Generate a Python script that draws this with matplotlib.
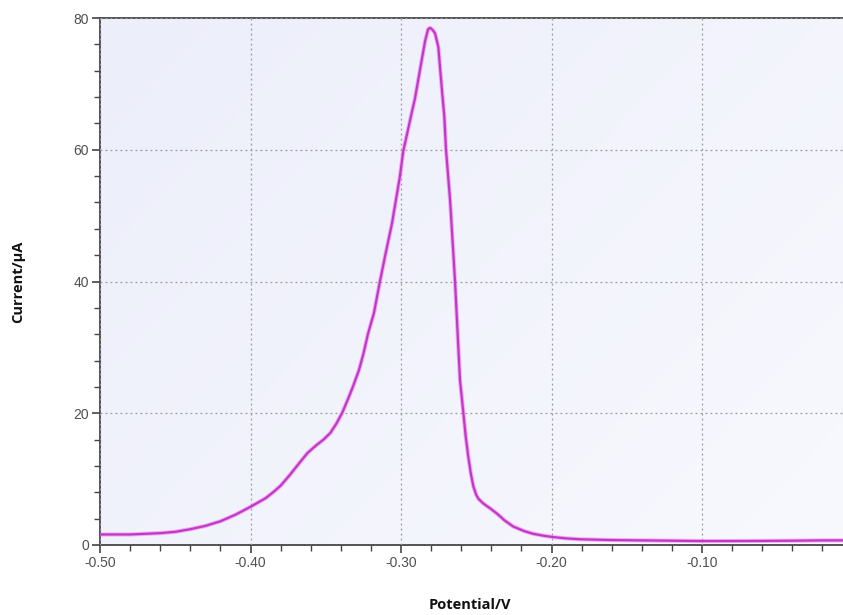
import numpy as np
import matplotlib
matplotlib.use("Agg")
import matplotlib.pyplot as plt
from matplotlib.ticker import MultipleLocator, FormatStrFormatter
from matplotlib.colors import LinearSegmentedColormap

# potential (V) and current (uA)
potential = [-0.500, -0.480, -0.460, -0.450, -0.440, -0.430, -0.420, -0.410,
             -0.400, -0.390, -0.385, -0.380, -0.374, -0.367, -0.362, -0.356,
             -0.3515, -0.347, -0.343, -0.339, -0.3355, -0.332, -0.328, -0.325,
             -0.322, -0.318, -0.314, -0.310, -0.306, -0.3007, -0.2985, -0.2950,
             -0.2929, -0.2907, -0.2874, -0.2840, -0.2820, -0.2807, -0.2790,
             -0.2774, -0.2752, -0.2730, -0.2712, -0.2701, -0.2674, -0.2641,
             -0.2608, -0.2590, -0.2570, -0.2553, -0.2535, -0.2519, -0.2500,
             -0.2485, -0.2453, -0.2410, -0.2364, -0.2310, -0.2254, -0.2180,
             -0.2121, -0.2050, -0.1988, -0.190, -0.181, -0.160, -0.140, -0.120,
             -0.100, -0.080, -0.060, -0.040, -0.020, -0.006]
current = [1.6, 1.6, 1.8, 2.0, 2.4, 2.9, 3.6, 4.6,
           5.8, 7.1, 8.0, 9.0, 10.6, 12.6, 14.0, 15.2,
           16.0, 17.0, 18.4, 20.1, 22.0, 24.0, 26.5, 29.0,
           32.0, 35.2, 40.0, 44.5, 48.8, 56.0, 59.8, 63.4,
           65.6, 67.8, 72.1, 76.5, 78.3, 78.5, 78.2,
           77.7, 75.6, 69.6, 65.0, 60.0, 52.4, 40.0,
           25.0, 21.0, 16.5, 13.4, 10.7, 8.9, 7.6,
           7.0, 6.3, 5.6, 4.8, 3.7, 2.8, 2.1,
           1.7, 1.4, 1.2, 1.0, 0.87, 0.75, 0.7, 0.65,
           0.6, 0.6, 0.62, 0.65, 0.7, 0.7]

x_ticks = [-0.50, -0.40, -0.30, -0.20, -0.10]
y_ticks = [0, 20, 40, 60, 80]

fig = plt.figure(figsize=(8.43, 6.15), dpi=100)
ax = fig.add_axes([100 / 843, 1 - 545 / 615, 743 / 843, 527 / 615])

# soft lavender background, a little lighter towards the lower right
bg = LinearSegmentedColormap.from_list("bg", ["#eceefa", "#f8f9fe"])
gx, gy = np.meshgrid(np.linspace(0, 1, 200), np.linspace(0, 1, 200))
ax.imshow(0.6 * gx + 0.4 * gy, cmap=bg, extent=[0, 1, 0, 1], origin="upper",
          transform=ax.transAxes, aspect="auto", zorder=0)

ax.plot(potential, current, color="#f07af0", lw=3.0, alpha=0.6, zorder=3)
ax.plot(potential, current, color="#c238c6", lw=1.6, zorder=4)

ax.set_xlim(-0.5, -0.5 + 743 / 1505)
ax.set_ylim(0, 80)
ax.set_xticks(x_ticks)
ax.set_yticks(y_ticks)
ax.xaxis.set_minor_locator(MultipleLocator(0.02))
ax.yaxis.set_minor_locator(MultipleLocator(4))
ax.xaxis.set_major_formatter(FormatStrFormatter("%.2f"))

ax.grid(True, which="major", ls=(0, (1.5, 2.5)), color="#999999", lw=0.9)
ax.set_axisbelow(False)
for line in ax.get_xgridlines() + ax.get_ygridlines():
    line.set_zorder(1)

for side in ["left", "bottom", "top"]:
    ax.spines[side].set_color("#444444")
    ax.spines[side].set_linewidth(1.3)
ax.spines["right"].set_visible(False)

ax.tick_params(which="major", direction="out", length=6, width=1.2,
               color="#444444", labelsize=10, labelcolor="#505050", pad=2)
ax.tick_params(which="minor", direction="out", length=4, width=1.0,
               color="#444444")
for lab in ax.get_xticklabels() + ax.get_yticklabels():
    lab.set_family("Liberation Sans")

fig.text(470 / 843, 1 - 605 / 615, "Potential/V", ha="center", va="center",
         fontsize=10.5, fontweight="bold", family="Open Sans", color="#111111")
fig.text(18 / 843, 1 - 282 / 615, "Current/\u03bcA", ha="center", va="center",
         rotation=90, fontsize=10.5, fontweight="bold", family="Open Sans",
         color="#111111")

fig.savefig("out.png", dpi=100)
